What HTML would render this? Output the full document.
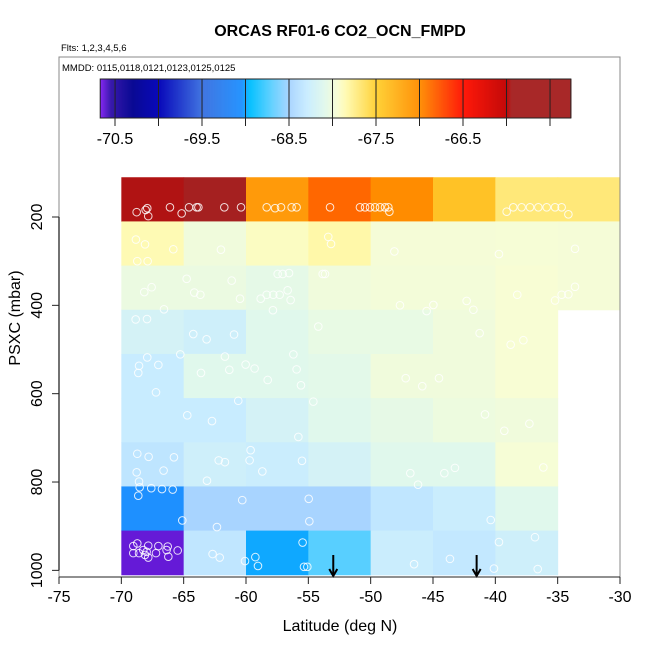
<!DOCTYPE html>
<html><head><meta charset="utf-8"><style>
html,body{margin:0;padding:0;background:#fff;}
svg{display:block;font-family:"Liberation Sans",Arial,sans-serif;}
</style></head><body>
<svg id="chart" width="650" height="650" viewBox="0 0 650 650" xmlns="http://www.w3.org/2000/svg">
<rect width="650" height="650" fill="#fff"/>
<text x="340" y="36" text-anchor="middle" font-size="16" font-weight="bold">ORCAS RF01-6 CO2_OCN_FMPD</text>
<text x="61" y="51" font-size="9.5">Flts: 1,2,3,4,5,6</text>
<text x="62" y="71" font-size="9.5">MMDD: 0115,0118,0121,0123,0125,0125</text>
<g id="cells"></g><g id="pts"></g><g id="cbar"></g><g id="axes"></g>
<text x="340" y="631" text-anchor="middle" font-size="16">Latitude (deg N)</text>
<text transform="translate(20,318) rotate(-90)" text-anchor="middle" font-size="16">PSXC (mbar)</text>
</svg>
<script>
const latEdges=[-70,-65,-60,-55,-50,-45,-40,-35,-30];
const presCenters=[160,260,360,460,560,660,760,860,960];
const cellValues=[
[-65.97,-65.9,-67.1,-66.85,-67.0,-67.4,-67.7,-67.7],
[-67.86,-68.0,-67.9,-67.83,-67.97,-67.97,-67.96,-67.97],
[-68.03,-68.03,-68.07,-68.0,-67.98,-67.98,-67.95,-67.97],
[-68.2,-68.25,-68.1,-68.05,-68.05,-68.0,-67.95,null],
[-68.3,-68.1,-68.1,-68.08,-68.0,-68.0,-67.95,null],
[-68.3,-68.3,-68.2,-68.1,-68.06,-68.02,-68.0,null],
[-68.36,-68.25,-68.28,-68.2,-68.1,-68.1,-67.96,null],
[-69.05,-68.5,-68.5,-68.5,-68.35,-68.28,-68.1,null],
[-70.63,-68.35,-69.0,-68.72,-68.28,-68.33,-68.25,null]];
const ptLat=[-68.77,-68.05,-67.92,-67.84,-66.10,-65.16,-64.57,-63.96,-63.82,-61.74,-60.40,-58.34,-57.67,-57.19,-56.34,-55.94,-53.26,-50.86,-50.45,-50.05,-49.65,-49.25,-48.85,-48.58,-48.50,-39.09,-38.56,-37.89,-37.22,-36.55,-35.88,-35.21,-34.68,-34.14,
-68.83,-68.10,-65.83,-68.72,-67.89,-62.01,-53.40,-53.18,-48.10,-39.71,-33.61,
-64.76,-61.15,-67.57,-68.16,-64.15,-63.66,-60.48,-66.58,-57.46,-57.06,-56.55,-53.85,-53.66,-56.66,-58.34,-57.81,-57.30,-58.82,-56.42,-57.84,-47.65,-44.97,-45.51,-42.30,-41.76,-38.24,-34.68,-34.14,-35.21,-33.61,
-68.85,-67.94,-64.23,-63.16,-60.96,-54.20,-41.26,-38.77,-37.75,
-67.92,-68.58,-68.64,-67.03,-65.27,-61.69,-63.61,-61.34,-60.03,-59.31,-56.20,-55.94,
-67.22,-58.26,-55.59,-47.19,-45.86,-44.52,-60.62,-54.60,-64.71,-62.73,-55.80,-40.83,-39.28,-37.27,
-68.72,-67.81,-65.78,-66.61,-68.77,-68.58,-68.53,-67.60,-66.74,-65.88,-68.64,-62.19,-61.69,-59.63,-59.71,-55.51,-58.69,-63.13,-46.82,-46.20,-44.09,-43.24,-36.15,
-60.30,-54.97,-54.92,-65.11,-62.33,-40.37,-39.71,-36.82,-40.11,-36.60,-43.64,-46.52,-55.46,-59.25,-59.04,-60.08,-55.35,-55.08,-62.68,-62.11,
-69.04,-68.72,-67.84,-67.03,-66.28,-65.48,-69.04,-68.58,-68.10,-67.84,-67.22,-66.23,-66.37,-67.97,-68.24];
const ptPres=[189,184,180,198,178,192,178,178,178,178,178,178,180,178,178,178,178,178,178,178,178,178,178,178,188,188,178,178,178,178,178,178,178,194,
251,262,273,300,300,274,245,261,278,284,272,
340,344,359,370,371,376,385,409,329,329,327,329,329,366,376,376,376,385,388,411,400,399,413,390,410,376,376,375,389,358,
432,431,465,477,466,448,463,489,479,
518,537,553,535,511,516,553,546,534,543,511,545,
597,569,581,565,583,565,616,618,649,662,698,647,684,668,
736,743,744,774,778,799,812,814,816,817,831,751,755,728,751,752,776,797,780,806,780,768,767,
841,838,889,887,902,886,936,925,996,997,974,986,937,970,990,979,992,992,963,971,
945,939,944,945,946,955,961,961,965,971,961,969,954,958,954];
const arrowLats=[-53.0,-41.5];
const xTicks=[-75,-70,-65,-60,-55,-50,-45,-40,-35,-30];
const yTicks=[200,400,600,800,1000];
const cbTicks=[-70.5,-70,-69.5,-69,-68.5,-68,-67.5,-67,-66.5,-66,-65.5];
const cbLabels=[-70.5,-69.5,-68.5,-67.5,-66.5];
const cbMin=-70.67, cbMax=-65.26;

const NS='http://www.w3.org/2000/svg';
const xS=v=>59+(v+75)*(561/45);
const yS=p=>217+(p-200)*0.4417;
const cbX=v=>115+(v+70.5)*87;
const stops=[[-70.67,'#7f1fef'],[-70.55,'#3010a8'],[-70.3,'#000090'],[-70.0,'#0000b8'],[-69.5,'#3a70e0'],[-69.05,'#1e90ff'],[-68.95,'#00bfff'],[-68.7,'#60d0ff'],[-68.5,'#a8d4ff'],[-68.3,'#c8ecff'],[-68.1,'#e0f8ec'],[-67.95,'#f8fdd4'],[-67.85,'#fffab0'],[-67.5,'#ffd030'],[-67.0,'#ff8c00'],[-66.5,'#ff1000'],[-66.0,'#c00000'],[-65.95,'#a52020'],[-65.26,'#a52020']];
function hx(c){return [1,3,5].map(i=>parseInt(c.substr(i,2),16));}
function color(v){
  if(v<=stops[0][0])return stops[0][1];
  for(let i=1;i<stops.length;i++){if(v<=stops[i][0]){const a=stops[i-1],b=stops[i];const t=(v-a[0])/(b[0]-a[0]);const ca=hx(a[1]),cb=hx(b[1]);return 'rgb('+ca.map((c,k)=>Math.round(c+(cb[k]-c)*t)).join(',')+')';}}
  return stops[stops.length-1][1];
}
function mk(tag,attrs,parent){const e=document.createElementNS(NS,tag);for(const k in attrs)e.setAttribute(k,attrs[k]);parent.appendChild(e);return e;}
const cells=document.getElementById('cells');
cellValues.forEach((row,r)=>row.forEach((v,c)=>{
  if(v===null)return;
  const x0=xS(latEdges[c]),x1=xS(latEdges[c+1]);
  const y0=yS(presCenters[r]-50),y1=yS(presCenters[r]+50);
  const e=mk('rect',{x:x0,y:y0,width:x1-x0+0.5,height:y1-y0+0.5,fill:color(v)},cells);
  
  
}));
const pts=document.getElementById('pts');
ptLat.forEach((la,i)=>{
  const e=mk('circle',{cx:xS(la),cy:yS(ptPres[i]),r:3.8,fill:'none',stroke:'#fff','stroke-width':1,opacity:0.85},pts);
  
  
});
arrowLats.forEach(la=>{
  const g=mk('g',{stroke:'#000','stroke-width':2,fill:'none'},pts);
  
  
  const x=xS(la);
  mk('line',{x1:x,y1:555,x2:x,y2:576},g);
  mk('polyline',{points:(x-4)+',569 '+x+',576 '+(x+4)+',569'},g);
});
// colorbar
const cb=document.getElementById('cbar');
const cbg=mk('g',{},cb);


const x0=cbX(cbMin),x1=cbX(cbMax);
for(let x=x0;x<x1;x+=1){mk('rect',{x:x,y:79,width:1.2,height:39,fill:color(cbMin+(x-x0)/87)},cbg);}
cbTicks.forEach(v=>{mk('line',{x1:cbX(v),y1:79,x2:cbX(v),y2:126,stroke:'#222','stroke-width':1},cbg);});
mk('rect',{x:x0,y:79,width:x1-x0,height:39,fill:'none',stroke:'#222','stroke-width':1},cbg);
cbLabels.forEach(v=>{const t=mk('text',{x:cbX(v),y:144,'text-anchor':'middle','font-size':16},cbg);t.textContent=v.toFixed(1);
  
  });
// axes
const ax=document.getElementById('axes');
const box=mk('rect',{x:59,y:57,width:561,height:520,fill:'none',stroke:'#888','stroke-width':1},ax);


mk('line',{x1:59,y1:577,x2:620,y2:577,stroke:'#222','stroke-width':1},ax);
mk('line',{x1:59,y1:yS(200),x2:59,y2:yS(1000),stroke:'#444','stroke-width':1.5},ax);
xTicks.forEach(v=>{const x=xS(v);mk('line',{x1:x,y1:577,x2:x,y2:584,stroke:'#222'},ax);
  const t=mk('text',{x:x,y:602,'text-anchor':'middle','font-size':16},ax);t.textContent=v;
  
  });
yTicks.forEach(v=>{const y=yS(v);mk('line',{x1:52,y1:y,x2:59,y2:y,stroke:'#222'},ax);
  const t=mk('text',{'text-anchor':'middle','font-size':16,transform:'translate(42,'+y+') rotate(-90)'},ax);t.textContent=v;
  
  });
</script>
</body></html>
